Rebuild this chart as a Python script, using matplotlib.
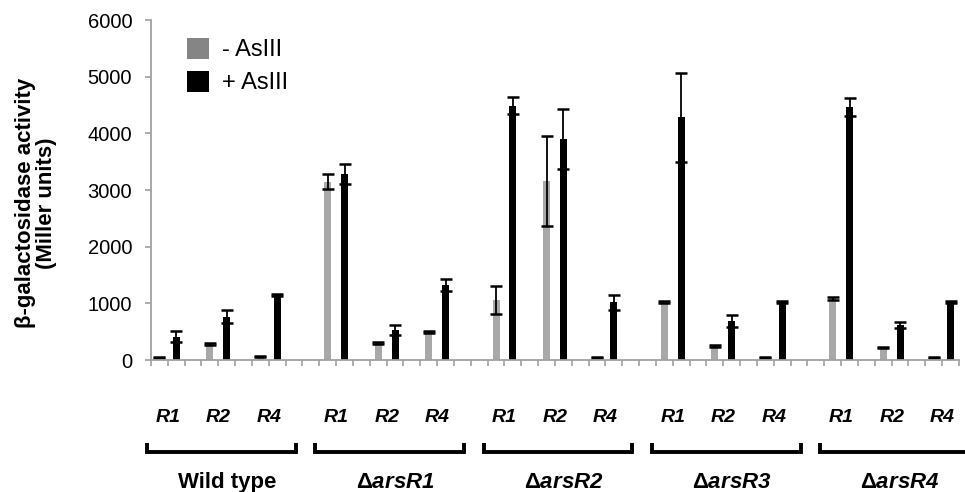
import numpy as np
import matplotlib
matplotlib.use('Agg')
import matplotlib.pyplot as plt
from matplotlib.patches import Patch
from matplotlib.transforms import blended_transform_factory

plt.rcParams['font.family'] = ['Liberation Sans', 'DejaVu Sans']
plt.rcParams['mathtext.fontset'] = 'custom'
plt.rcParams['mathtext.rm'] = 'Liberation Sans:bold:italic'
plt.rcParams['mathtext.bf'] = 'Liberation Sans:bold'
plt.rcParams['mathtext.it'] = 'Liberation Sans:bold:italic'

strains = ['Wild type', r'$\mathbf{Δ}arsR1$', r'$\mathbf{Δ}arsR2$',
           r'$\mathbf{Δ}arsR3$', r'$\mathbf{Δ}arsR4$']
regulators = ['R1', 'R2', 'R4']

# rows = strains, columns = R1, R2, R4
minus_vals = [[40, 277, 60],
              [3150, 294, 495],
              [1056, 3156, 47],
              [1029, 253, 47],
              [1088, 218, 47]]
minus_err = [[10, 15, 10],
             [130, 15, 15],
             [250, 797, 10],
             [15, 15, 10],
             [30, 15, 10]]
plus_vals = [[410, 765, 1147],
             [3280, 529, 1323],
             [4490, 3900, 1020],
             [4280, 688, 1018],
             [4458, 618, 1018]]
plus_err = [[100, 115, 20],
            [180, 90, 100],
            [150, 530, 130],
            [780, 100, 15],
            [160, 60, 15]]

fig = plt.figure(figsize=(9.65, 4.92), dpi=100)
ax = fig.add_axes([151 / 965, 132 / 492, 808 / 965, 340 / 492])

x_minus = []
x_plus = []
for g in range(len(strains)):
    for r in range(len(regulators)):
        x_minus.append(10 * g + 3 * r)
        x_plus.append(10 * g + 3 * r + 1)

w = 0.42
ebkw = dict(ecolor='black', elinewidth=1.3, capsize=4.5, capthick=1.8)
ax.bar(x_minus, np.ravel(minus_vals), w, color='#a8a8a8', yerr=np.ravel(minus_err),
       error_kw=ebkw, zorder=2)
ax.bar(x_plus, np.ravel(plus_vals), w, color='black', yerr=np.ravel(plus_err),
       error_kw=ebkw, zorder=2)

ax.set_xlim(-0.5, 47.5)
ax.set_ylim(0, 6000)
ax.set_yticks(range(0, 6001, 1000))
ax.set_xticks(np.arange(-0.5, 48, 1.0))
ax.set_xticklabels([])
for s in ['top', 'right']:
    ax.spines[s].set_visible(False)
for s in ['left', 'bottom']:
    ax.spines[s].set_color('#a0a0a0')
    ax.spines[s].set_linewidth(1.3)
ax.tick_params(axis='y', direction='out', length=4.5, width=1.2, color='#a0a0a0',
               labelsize=14.5, pad=9)
ax.tick_params(axis='x', direction='out', length=4, width=1.2, color='#a0a0a0')

fig.text(36 / 965, 1 - 203 / 492, 'β-galactosidase activity\n(Miller units)',
         rotation=90, ha='center', va='center', fontsize=16, fontweight='bold',
         multialignment='center', linespacing=1.05)

trans = blended_transform_factory(ax.transData, ax.transAxes)
for g, name in enumerate(strains):
    for r, reg in enumerate(regulators):
        ax.text(10 * g + 3 * r + 0.5, -0.17, reg, transform=trans, ha='center',
                va='center', fontsize=14, fontweight='bold', style='italic')
    x0 = 10 * g - 0.74
    x1 = 10 * g + 8.1
    ax.plot([x0, x0, x1, x1], [-0.244, -0.27, -0.27, -0.244], transform=trans,
            color='black', lw=2.8, clip_on=False, solid_joinstyle='miter',
            solid_capstyle='butt')
    ax.text(10 * g + 4, -0.36, name, transform=trans, ha='center', va='center',
            fontsize=16, fontweight='bold')

handles = [Patch(facecolor='#858585', edgecolor='none'),
           Patch(facecolor='black', edgecolor='none')]
ax.legend(handles, ['- AsIII', '+ AsIII'], loc='upper left',
          bbox_to_anchor=(0.044, 0.948), frameon=False, fontsize=17,
          handlelength=0.95, handleheight=1.0, handletextpad=0.55,
          labelspacing=0.4, borderpad=0, borderaxespad=0)

fig.savefig('out.png', dpi=100)
